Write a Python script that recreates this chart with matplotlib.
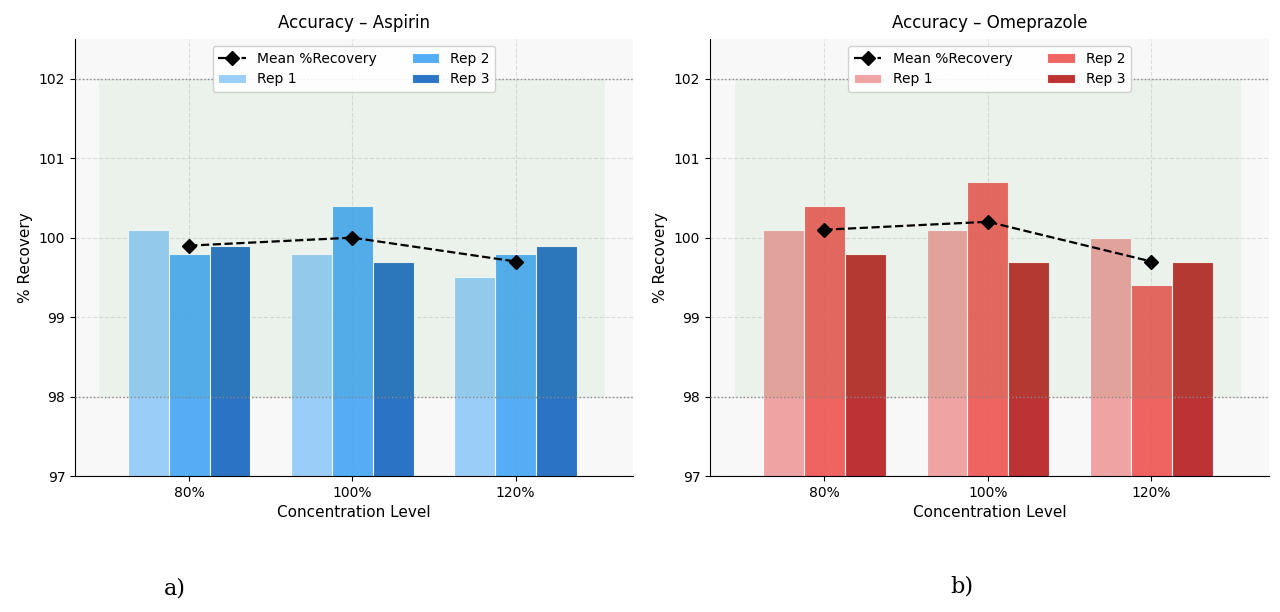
import numpy as np
import matplotlib
matplotlib.use('Agg')
import matplotlib.pyplot as plt

levels = ['80%', '100%', '120%']

# Aspirin replicates (% recovery)
asp_rep1 = [100.1, 99.8, 99.5]
asp_rep2 = [99.8, 100.4, 99.8]
asp_rep3 = [99.9, 99.7, 99.9]
asp_mean = [99.9, 100.0, 99.7]

# Omeprazole replicates (% recovery)
ome_rep1 = [100.1, 100.1, 100.0]
ome_rep2 = [100.4, 100.7, 99.4]
ome_rep3 = [99.8, 99.7, 99.7]
ome_mean = [100.1, 100.2, 99.7]

blues = ['#90CAF9', '#42A5F5', '#1565C0']
reds = ['#EF9A9A', '#EF5350', '#B71C1C']

fig = plt.figure(figsize=(12.8, 6.12), dpi=100)
ax1 = fig.add_axes([0.0586, 0.2222, 0.436, 0.714])
ax2 = fig.add_axes([0.5547, 0.2222, 0.4367, 0.714])


def draw_panel(ax, reps, mean, colors, title):
	x = np.arange(len(levels))
	w = 0.25
	ax.set_facecolor('#f8f8f8')
	ax.grid(True, linestyle='--', color='#cccccc', alpha=0.6, zorder=0)
	ax.set_axisbelow(True)
	for i, vals in enumerate(reps):
		ax.bar(x + (i - 1) * w, vals, width=w, color=colors[i], alpha=0.9,
			   edgecolor='white', linewidth=0.8, label='Rep %d' % (i + 1), zorder=2)
	# acceptance band 98-102
	ax.fill_between([-0.55, 2.55], 98, 102, color='#43a047', alpha=0.07,
					linewidth=0, zorder=3)
	ax.axhline(98, color='#888888', linestyle=':', linewidth=1.0, zorder=3)
	ax.axhline(102, color='#888888', linestyle=':', linewidth=1.0, zorder=3)
	ax.plot(x, mean, 'k--', marker='D', markersize=7, linewidth=1.6,
			label='Mean %Recovery', zorder=5)
	ax.set_xticks(x)
	ax.set_xticklabels(levels)
	ax.set_xlim(-0.7, 2.72)
	ax.set_ylim(97, 102.5)
	ax.set_yticks([97, 98, 99, 100, 101, 102])
	ax.tick_params(labelsize=10)
	ax.set_xlabel('Concentration Level', fontsize=11)
	ax.set_ylabel('% Recovery', fontsize=11)
	ax.set_title(title, fontsize=12, pad=8)
	for s in ['top', 'right']:
		ax.spines[s].set_visible(False)
	ax.legend(loc='upper center', ncol=2, fontsize=10, framealpha=0.9,
			  edgecolor='#cccccc', columnspacing=2.5)


draw_panel(ax1, [asp_rep1, asp_rep2, asp_rep3], asp_mean, blues, 'Accuracy – Aspirin')
draw_panel(ax2, [ome_rep1, ome_rep2, ome_rep3], ome_mean, reds, 'Accuracy – Omeprazole')

fig.text(175 / 1280, 1 - 588 / 612, 'a)', fontsize=16, family='DejaVu Serif',
		 ha='center', va='center')
fig.text(962 / 1280, 1 - 586 / 612, 'b)', fontsize=16, family='DejaVu Serif',
		 ha='center', va='center')

fig.savefig('out.png', dpi=100)
